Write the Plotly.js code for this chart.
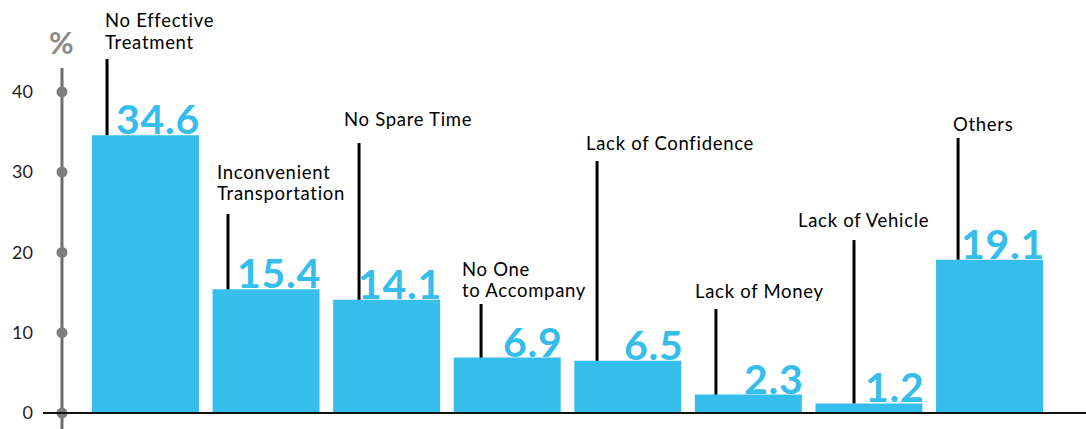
<!DOCTYPE html>
<html><head><meta charset="utf-8">
<script src="https://cdn.plot.ly/plotly-3.0.1.min.js"></script>
<style>html,body{margin:0;padding:0;background:#fff}#chart{width:1086px;height:429px}
.annotation-text{letter-spacing:0.7px}</style>
</head><body><div id="chart"></div>
<script>
// ---- data ----
const categories = ["No Effective Treatment","Inconvenient Transportation","No Spare Time","No One to Accompany","Lack of Confidence","Lack of Money","Lack of Vehicle","Others"];
const labelLines = [["No Effective","Treatment"],["Inconvenient","Transportation"],["No Spare Time"],["No One","to Accompany"],["Lack of Confidence"],["Lack of Money"],["Lack of Vehicle"],["Others"]];
const values = [34.6, 15.4, 14.1, 6.9, 6.5, 2.3, 1.2, 19.1];
const valueLabels = ["34.6","15.4","14.1","6.9","6.5","2.3","1.2","19.1"];
const yTicks = [0, 10, 20, 30, 40];
const yTickLabels = ["0","10","20","30","40"];
const unitLabel = "%";

// ---- layout positions (not data) ----
const leaderDx = [-0.319,-0.316,-0.229,-0.217,-0.255,-0.269,-0.124,-0.261];
const leaderTop = [44.08,24.78,33.62,13.57,31.38,12.95,21.54,34.25];
const labelDxPx = [-42.5,-51.1,-44.6,-47.2,-43.8,-55.4,-72.9,-38.5];
const labelMid = [47.58,28.70,36.61,16.63,33.62,15.19,24.03,35.99];
const axisX = -0.6925;
const BLUE = "#35bdec";
const FONT = "Lato, 'Open Sans', sans-serif";

const idx = categories.map((c, i) => i);

const bars = {
  type: "bar", x: idx, y: values, hovertext: categories, hoverinfo: "text+y",
  marker: {color: BLUE, line: {width: 0}}, showlegend: false
};
const dots = {
  type: "scatter", mode: "markers", x: yTicks.map(() => axisX), y: yTicks,
  marker: {size: 11, color: "#7d7d7d"}, cliponaxis: false, hoverinfo: "skip", showlegend: false
};

const annotations = [];
values.forEach((v, i) => {
  annotations.push({
    x: i, y: v, xref: "x", yref: "y", text: "<b>" + valueLabels[i] + "</b>",
    showarrow: false, xanchor: "right", yanchor: "bottom", xshift: 57, yshift: -10,
    font: {family: FONT, size: 41, color: BLUE}
  });
  const lines = labelLines[i];
  lines.forEach((t, j) => {
    annotations.push({
      x: i, y: labelMid[i], xref: "x", yref: "y", text: t, showarrow: false,
      xanchor: "left", yanchor: "middle", xshift: labelDxPx[i],
      yshift: (lines.length - 1) / 2 * 21.5 - j * 21.5,
      font: {family: FONT, size: 18.5, color: "#000"}
    });
  });
});
annotations.push({
  x: axisX, y: 46.2, xref: "x", yref: "y", text: "<b>" + unitLabel + "</b>", showarrow: false,
  xanchor: "center", yanchor: "middle", font: {family: FONT, size: 30, color: "#8a8a8a"}
});

const shapes = [
  {type: "line", xref: "x", yref: "paper", x0: axisX, x1: axisX, y0: 0, y1: 0.8413,
   line: {color: "#6e6e6e", width: 3}, layer: "below"},
  {type: "line", xref: "paper", yref: "y", x0: 0, x1: 1, y0: 0, y1: 0,
   line: {color: "#111", width: 2}, layer: "above"}
];
values.forEach((v, i) => {
  shapes.push({type: "line", xref: "x", yref: "y", x0: i + leaderDx[i], x1: i + leaderDx[i],
    y0: v, y1: leaderTop[i], line: {color: "#000", width: 3}, layer: "above"});
});

const layout = {
  width: 1086, height: 429,
  margin: {l: 43, r: 0, t: 0, b: 0, pad: 0},
  paper_bgcolor: "#fff", plot_bgcolor: "#fff",
  bargap: 0.113,
  font: {family: FONT},
  xaxis: {range: [-0.850, 7.800], showticklabels: false, showgrid: false, zeroline: false,
    showline: false, ticks: "", fixedrange: true},
  yaxis: {range: [-1.99, 51.43], tickvals: yTicks, ticktext: yTickLabels, showgrid: false,
    zeroline: false, showline: false, ticks: "", ticklabelstandoff: 9,
    tickfont: {family: FONT, size: 18, color: "#222"}, fixedrange: true},
  annotations: annotations,
  shapes: shapes,
  showlegend: false
};

Plotly.newPlot("chart", [bars, dots], layout, {displayModeBar: false, staticPlot: true});
</script>
</body></html>
